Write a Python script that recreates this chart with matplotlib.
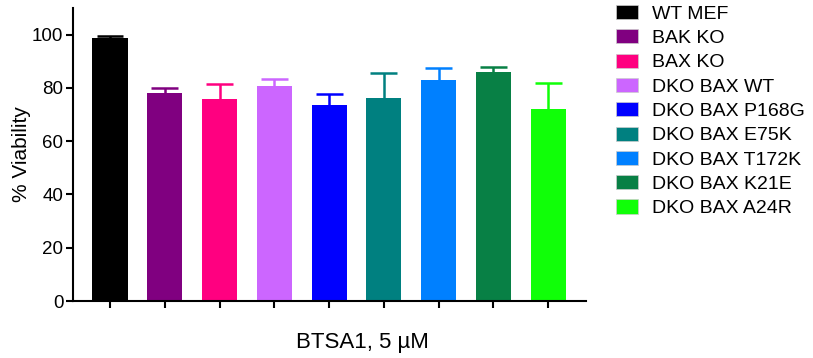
import matplotlib.pyplot as plt
from matplotlib.patches import Patch

plt.rcParams['font.family'] = ['Liberation Sans', 'DejaVu Sans']

groups = ["WT MEF", "BAK KO", "BAX KO", "DKO BAX WT", "DKO BAX P168G",
          "DKO BAX E75K", "DKO BAX T172K", "DKO BAX K21E", "DKO BAX A24R"]
viability = [98.6, 78.2, 76.0, 80.8, 73.7, 76.3, 82.9, 85.8, 72.0]
err_up = [0.8, 1.9, 5.4, 2.6, 3.9, 9.1, 4.4, 2.2, 10.0]
colors = ["#000000", "#800080", "#ff0080", "#cc66ff", "#0000ff",
          "#008080", "#0080ff", "#088045", "#10ff08"]

fig = plt.figure(figsize=(8.13, 3.58), dpi=100)
ax = fig.add_axes([0.0898, 0.159, 0.631, 0.819])

x = list(range(len(groups)))
ax.bar(x, viability, width=0.64, color=colors, zorder=2)
# upward-only error bars with caps
cap = 0.245
for i in x:
    top = viability[i] + err_up[i]
    ax.vlines(i, viability[i], top, colors=colors[i], linewidth=1.8, zorder=3)
    ax.hlines(top, i - cap, i + cap, colors=colors[i], linewidth=1.8, zorder=3)

ax.set_xlim(-0.675, 8.69)
ax.set_ylim(0, 110)
ax.set_yticks([0, 20, 40, 60, 80, 100])
ax.set_xticks(x)
ax.set_xticklabels([])
ax.spines['top'].set_visible(False)
ax.spines['right'].set_visible(False)
ax.spines['left'].set_linewidth(1.5)
ax.spines['bottom'].set_linewidth(1.5)
ax.tick_params(axis='both', width=1.5, length=5, labelsize=13.5)
ax.tick_params(axis='y', pad=2)
ax.set_ylabel("% Viability", fontsize=15, labelpad=1)
ax.set_xlabel("BTSA1, 5 µM", fontsize=16, labelpad=12)
ax.xaxis.set_label_coords(0.565, -0.105)

handles = [Patch(facecolor=c, edgecolor='#cccccc', linewidth=0.5) for c in colors]
fig.legend(handles, groups, loc='upper left', bbox_to_anchor=(0.748, 1.008),
           frameon=False, fontsize=14, handlelength=1.15, handleheight=0.75,
           labelspacing=0.33, handletextpad=0.7, borderaxespad=0)

fig.savefig("out.png", dpi=100)
